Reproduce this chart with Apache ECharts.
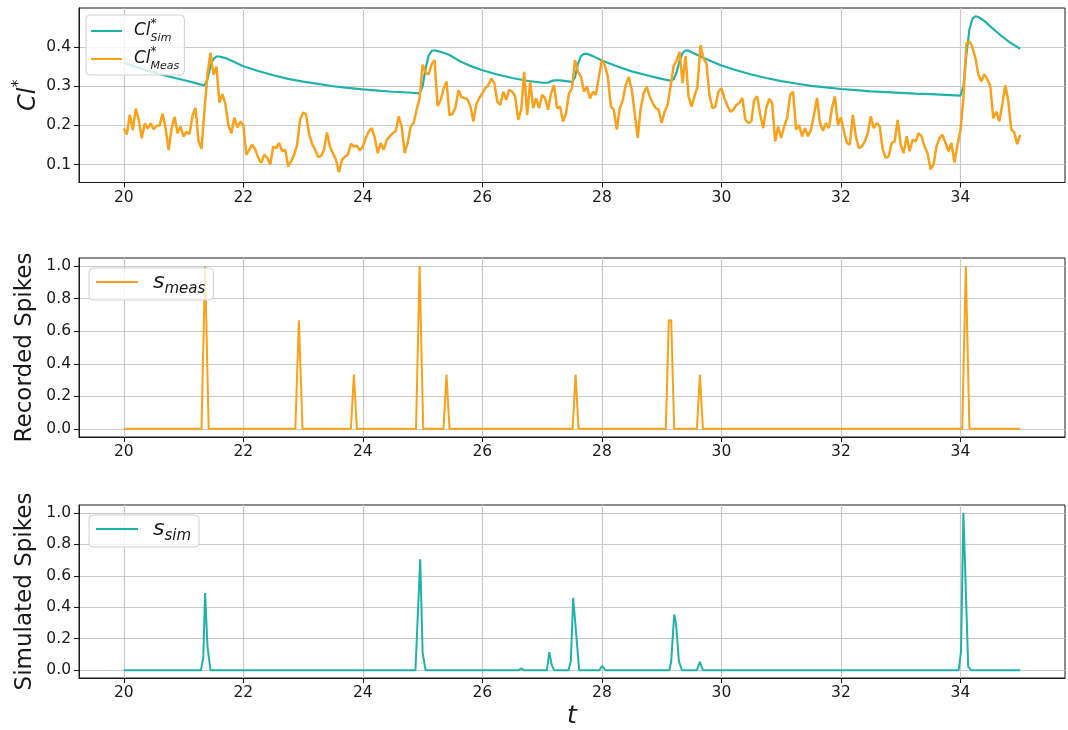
<!DOCTYPE html>
<html>
<head>
<meta charset="utf-8">
<script src="https://cdn.jsdelivr.net/npm/echarts@6/dist/echarts.min.js"></script>
<style>
  html, body { margin: 0; padding: 0; background: #fff; }
  #chart { width: 1068px; height: 730px; }
</style>
</head>
<body>
<div id="chart"></div>
<script>
// tick labels
var xTicks = [20, 22, 24, 26, 28, 30, 32, 34];
var clTicks = [0.1, 0.2, 0.3, 0.4];
var spikeTicks = [0, 0.2, 0.4, 0.6, 0.8, 1.0];

// measured Cl*, sampled every 0.05 from t = 20
var measStart = 20, measStep = 0.05;
var measValues = [
  0.192, 0.177, 0.227, 0.188, 0.243, 0.214, 0.167, 0.205, 0.192, 0.205, 0.190, 0.199, 0.200, 0.230, 0.192, 0.137, 0.192, 0.222, 0.180, 0.197, // 20
  0.171, 0.184, 0.178, 0.225, 0.245, 0.160, 0.140, 0.240, 0.330, 0.385, 0.330, 0.350, 0.258, 0.280, 0.255, 0.200, 0.180, 0.220, 0.195, 0.210, // 21
  0.200, 0.125, 0.138, 0.151, 0.138, 0.117, 0.104, 0.125, 0.117, 0.100, 0.146, 0.142, 0.155, 0.134, 0.138, 0.095, 0.108, 0.125, 0.150, 0.215, // 22
  0.233, 0.228, 0.178, 0.153, 0.138, 0.120, 0.121, 0.138, 0.182, 0.146, 0.129, 0.112, 0.080, 0.112, 0.120, 0.125, 0.153, 0.146, 0.148, 0.136, // 23
  0.146, 0.168, 0.185, 0.193, 0.168, 0.129, 0.155, 0.138, 0.163, 0.172, 0.180, 0.185, 0.223, 0.197, 0.129, 0.155, 0.197, 0.206, 0.240, 0.269, // 24
  0.355, 0.335, 0.330, 0.356, 0.367, 0.250, 0.263, 0.293, 0.312, 0.226, 0.229, 0.246, 0.290, 0.273, 0.270, 0.267, 0.248, 0.210, 0.255, 0.270, // 25
  0.282, 0.295, 0.303, 0.320, 0.308, 0.261, 0.252, 0.286, 0.265, 0.291, 0.286, 0.274, 0.214, 0.240, 0.337, 0.227, 0.312, 0.244, 0.269, 0.244, // 26
  0.278, 0.269, 0.240, 0.282, 0.303, 0.244, 0.248, 0.210, 0.231, 0.282, 0.295, 0.367, 0.337, 0.324, 0.286, 0.299, 0.269, 0.286, 0.278, 0.324, // 27
  0.367, 0.354, 0.324, 0.248, 0.240, 0.189, 0.244, 0.265, 0.303, 0.324, 0.291, 0.231, 0.168, 0.244, 0.282, 0.299, 0.274, 0.257, 0.244, 0.240, // 28
  0.206, 0.235, 0.252, 0.300, 0.352, 0.365, 0.388, 0.308, 0.377, 0.274, 0.248, 0.274, 0.299, 0.405, 0.371, 0.358, 0.278, 0.244, 0.248, 0.286, // 29
  0.295, 0.270, 0.250, 0.235, 0.240, 0.252, 0.257, 0.270, 0.215, 0.206, 0.210, 0.265, 0.274, 0.227, 0.193, 0.244, 0.268, 0.257, 0.159, 0.197, // 30
  0.168, 0.197, 0.218, 0.278, 0.286, 0.189, 0.201, 0.172, 0.193, 0.172, 0.189, 0.227, 0.270, 0.206, 0.186, 0.206, 0.193, 0.244, 0.274, 0.201, // 31
  0.220, 0.185, 0.155, 0.151, 0.227, 0.172, 0.142, 0.146, 0.159, 0.180, 0.223, 0.193, 0.206, 0.197, 0.138, 0.117, 0.121, 0.155, 0.159, 0.214, // 32
  0.151, 0.129, 0.172, 0.134, 0.163, 0.159, 0.180, 0.172, 0.146, 0.129, 0.088, 0.100, 0.146, 0.168, 0.176, 0.155, 0.134, 0.155, 0.105, 0.150, // 33
  0.186, 0.270, 0.410, 0.415, 0.400, 0.373, 0.330, 0.312, 0.331, 0.318, 0.300, 0.218, 0.235, 0.210, 0.252, 0.303, 0.263, 0.190, 0.182, 0.152, // 34
  0.176
];

// simulated Cl*  [t, value]
var simCurve = [
  [20.0, 0.360], [20.25, 0.347], [20.5, 0.335], [20.75, 0.325], [21.0, 0.316], [21.2, 0.308], [21.35, 0.302],
  [21.4, 0.318], [21.45, 0.352], [21.5, 0.370], [21.55, 0.376], [21.6, 0.376], [21.7, 0.372], [21.85, 0.362],
  [22.0, 0.351], [22.25, 0.339], [22.5, 0.328], [22.75, 0.319], [23.0, 0.312], [23.25, 0.306], [23.5, 0.300],
  [23.75, 0.296], [24.0, 0.292], [24.25, 0.289], [24.5, 0.286], [24.75, 0.284], [24.95, 0.282],
  [25.0, 0.300], [25.05, 0.345], [25.1, 0.378], [25.15, 0.390], [25.2, 0.392], [25.3, 0.388], [25.45, 0.380],
  [25.6, 0.366], [25.8, 0.352], [26.0, 0.341], [26.25, 0.330], [26.5, 0.321], [26.75, 0.314], [27.0, 0.309],
  [27.1, 0.309], [27.15, 0.313], [27.2, 0.315], [27.3, 0.315], [27.4, 0.313], [27.5, 0.311],
  [27.55, 0.322], [27.6, 0.358], [27.65, 0.377], [27.7, 0.383], [27.75, 0.383], [27.85, 0.377], [28.0, 0.366],
  [28.25, 0.351], [28.5, 0.338], [28.75, 0.328], [29.0, 0.319], [29.15, 0.314],
  [29.2, 0.318], [29.25, 0.335], [29.3, 0.365], [29.35, 0.385], [29.4, 0.391], [29.45, 0.391], [29.6, 0.380],
  [29.8, 0.366], [30.0, 0.353], [30.25, 0.341], [30.5, 0.330], [30.75, 0.321], [31.0, 0.313], [31.25, 0.307],
  [31.5, 0.301], [31.75, 0.297], [32.0, 0.293], [32.25, 0.290], [32.5, 0.287], [32.75, 0.285], [33.0, 0.283],
  [33.25, 0.281], [33.5, 0.280], [33.75, 0.278], [34.0, 0.276],
  [34.05, 0.300], [34.1, 0.380], [34.15, 0.445], [34.2, 0.472], [34.25, 0.479], [34.3, 0.477], [34.4, 0.467],
  [34.5, 0.453], [34.6, 0.440], [34.7, 0.427], [34.8, 0.415], [34.9, 0.405], [35.0, 0.396]
];

// recorded spikes  [t, value]
var recSpikes = [
  [20, 0], [21.30, 0], [21.36, 1.0], [21.42, 0],
  [22.87, 0], [22.93, 0.667], [22.99, 0],
  [23.80, 0], [23.85, 0.333], [23.90, 0],
  [24.89, 0], [24.95, 1.0], [25.01, 0],
  [25.35, 0], [25.40, 0.333], [25.45, 0],
  [27.51, 0], [27.56, 0.333], [27.61, 0],
  [29.07, 0], [29.12, 0.667], [29.16, 0.667], [29.21, 0],
  [29.59, 0], [29.64, 0.333], [29.69, 0],
  [34.03, 0], [34.09, 1.0], [34.15, 0],
  [35, 0]
];

// simulated spikes  [t, value]
var simSpikes = [
  [20, 0], [21.29, 0], [21.33, 0.08], [21.36, 0.49], [21.40, 0.15], [21.45, 0],
  [24.88, 0], [24.96, 0.705], [25.00, 0.11], [25.05, 0],
  [26.61, 0], [26.65, 0.012], [26.69, 0],
  [27.08, 0], [27.12, 0.114], [27.16, 0.034], [27.20, 0],
  [27.44, 0], [27.48, 0.055], [27.52, 0.46], [27.62, 0],
  [27.96, 0], [28.0, 0.027], [28.06, 0],
  [29.13, 0], [29.16, 0.055], [29.21, 0.354], [29.24, 0.297], [29.29, 0.055], [29.34, 0],
  [29.59, 0], [29.64, 0.053], [29.69, 0],
  [33.97, 0], [34.01, 0.118], [34.05, 1.0], [34.13, 0.023], [34.18, 0],
  [35, 0]
];

var FONT = 'DejaVu Sans';
var TEAL = '#20b2aa', ORANGE = '#f9a11b';
var INK = '#1a1a1a', GRIDC = '#c9c9c9';

var measData = measValues.map(function (v, i) { return [measStart + i * measStep, v]; });

function xAxisFor(idx, withName) {
  return {
    type: 'value', gridIndex: idx, min: 19.25, max: 35.75, splitNumber: 8,
    axisLine: { show: true, onZero: false, lineStyle: { color: INK, width: 1 } },
    axisTick: { show: true, length: 5, customValues: xTicks, lineStyle: { color: INK } },
    axisLabel: { customValues: xTicks, color: INK, fontFamily: FONT, fontSize: 15.5, margin: 7 },
    splitLine: { show: true, lineStyle: { color: GRIDC, width: 1.2 } },
    name: withName ? 't' : '', nameLocation: 'middle', nameGap: 26, nameMoveOverlap: false,
    nameTextStyle: { fontFamily: FONT, fontStyle: 'italic', fontSize: 25, color: INK }
  };
}

function yAxisFor(idx, lo, hi, ticks, name, gap, rich) {
  return {
    type: 'value', gridIndex: idx, min: lo, max: hi, splitNumber: 5,
    axisLine: { show: true, onZero: false, lineStyle: { color: INK, width: 1 } },
    axisTick: { show: true, length: 5, customValues: ticks, lineStyle: { color: INK } },
    axisLabel: {
      customValues: ticks, color: INK, fontFamily: FONT, fontSize: 15.5, margin: 8,
      formatter: function (v) { return v.toFixed(1); }
    },
    splitLine: { show: true, lineStyle: { color: GRIDC, width: 1.2 } },
    name: name, nameLocation: 'middle', nameRotate: 90, nameGap: gap, nameMoveOverlap: false,
    nameTextStyle: { fontFamily: FONT, fontSize: 23, color: INK, rich: rich }
  };
}

var legendBox = {
  orient: 'vertical', backgroundColor: 'rgba(255,255,255,0.8)',
  borderColor: '#d0d0d0', borderWidth: 1, borderRadius: 4, icon: 'rect'
};

var myChart = echarts.init(document.getElementById('chart'), null, { renderer: 'canvas' });

var option = {
  animation: false,
  backgroundColor: '#fff',
  grid: [
    { left: 79, width: 986, top: 8, height: 174.5, show: true, borderColor: INK, borderWidth: 1 },
    { left: 79, width: 986, top: 258, height: 179, show: true, borderColor: INK, borderWidth: 1 },
    { left: 79, width: 986, top: 505, height: 180, show: true, borderColor: INK, borderWidth: 1 }
  ],
  xAxis: [xAxisFor(0, false), xAxisFor(1, false), xAxisFor(2, true)],
  yAxis: [
    yAxisFor(0, 0.054, 0.5, clTicks, '{c|Cl}{s|*}', 38, {
      c: { fontFamily: FONT, fontStyle: 'italic', fontSize: 24, color: INK, lineHeight: 30, verticalAlign: 'bottom' },
      s: { fontFamily: FONT, fontSize: 16, color: INK, lineHeight: 30, verticalAlign: 'top' }
    }),
    yAxisFor(1, -0.05, 1.05, spikeTicks, 'Recorded Spikes', 42),
    yAxisFor(2, -0.05, 1.05, spikeTicks, 'Simulated Spikes', 42)
  ],
  legend: [
    Object.assign({
      data: ['Cl_Sim', 'Cl_Meas'], left: 86, top: 15, padding: [3, 5, 3, 5],
      itemWidth: 31, itemHeight: 2, itemGap: 2,
      formatter: function (n) {
        return n === 'Cl_Sim' ? '{c|Cl}{s|*}{b|Sim}' : '{c|Cl}{s|*}{b|Meas}';
      },
      textStyle: {
        rich: {
          c: { fontFamily: FONT, fontStyle: 'italic', fontSize: 17, color: INK, lineHeight: 26, padding: [0, 0, 0, 7] },
          s: { fontFamily: FONT, fontSize: 12, color: INK, lineHeight: 26, verticalAlign: 'top', width: 0 },
          b: { fontFamily: FONT, fontStyle: 'italic', fontSize: 11, color: INK, lineHeight: 26, verticalAlign: 'bottom' }
        }
      }
    }, legendBox),
    Object.assign({
      data: ['s_meas'], left: 89, top: 268, padding: [3, 8, 3, 7],
      itemWidth: 42, itemHeight: 2,
      formatter: function () { return '{c|s}{b|meas}'; },
      textStyle: {
        rich: {
          c: { fontFamily: FONT, fontStyle: 'italic', fontSize: 22, color: INK, lineHeight: 30, padding: [0, 0, 0, 10] },
          b: { fontFamily: FONT, fontStyle: 'italic', fontSize: 15, color: INK, lineHeight: 30, verticalAlign: 'bottom' }
        }
      }
    }, legendBox),
    Object.assign({
      data: ['s_sim'], left: 89, top: 515, padding: [3, 8, 3, 7],
      itemWidth: 42, itemHeight: 2,
      formatter: function () { return '{c|s}{b|sim}'; },
      textStyle: {
        rich: {
          c: { fontFamily: FONT, fontStyle: 'italic', fontSize: 22, color: INK, lineHeight: 30, padding: [0, 0, 0, 10] },
          b: { fontFamily: FONT, fontStyle: 'italic', fontSize: 15, color: INK, lineHeight: 30, verticalAlign: 'bottom' }
        }
      }
    }, legendBox)
  ],
  series: [
    {
      name: 'Cl_Sim', type: 'line', xAxisIndex: 0, yAxisIndex: 0, data: simCurve,
      symbol: 'none', lineStyle: { color: TEAL, width: 2.2 }, itemStyle: { color: TEAL }
    },
    {
      name: 'Cl_Meas', type: 'line', xAxisIndex: 0, yAxisIndex: 0, data: measData,
      symbol: 'none', lineStyle: { color: ORANGE, width: 2.5 }, itemStyle: { color: ORANGE }
    },
    {
      name: 's_meas', type: 'line', xAxisIndex: 1, yAxisIndex: 1, data: recSpikes,
      symbol: 'none', lineStyle: { color: ORANGE, width: 2 }, itemStyle: { color: ORANGE }
    },
    {
      name: 's_sim', type: 'line', xAxisIndex: 2, yAxisIndex: 2, data: simSpikes,
      symbol: 'none', lineStyle: { color: TEAL, width: 2 }, itemStyle: { color: TEAL }
    }
  ]
};

myChart.setOption(option);
</script>
</body>
</html>
